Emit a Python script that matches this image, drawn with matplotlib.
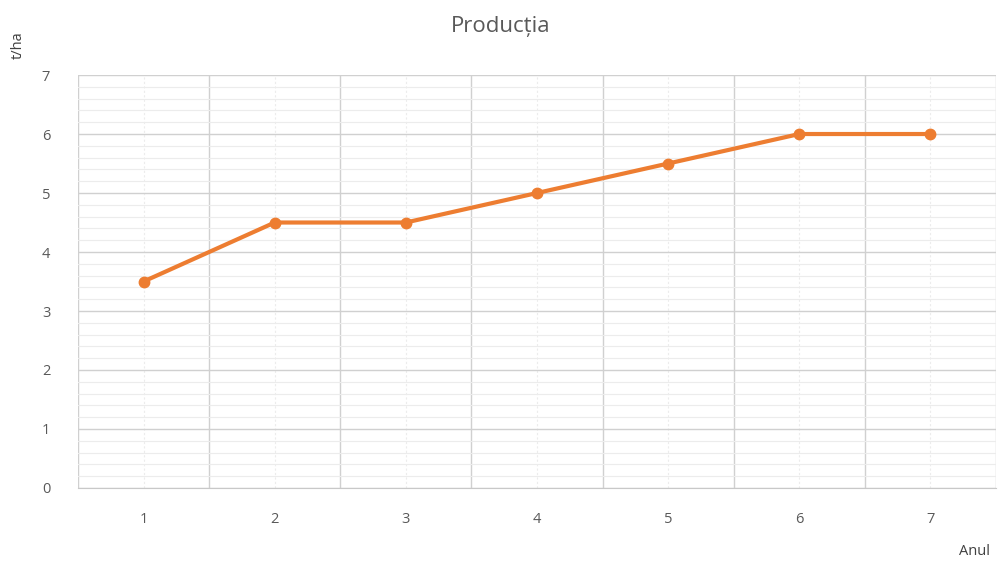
import matplotlib
matplotlib.use('Agg')
import matplotlib.pyplot as plt
import numpy as np

# data
years = [1, 2, 3, 4, 5, 6, 7]
production = [3.5, 4.5, 4.5, 5.0, 5.5, 6.0, 6.0]

plt.rcParams['font.family'] = ['Open Sans', 'DejaVu Sans']

fig = plt.figure(figsize=(10.01, 5.62), dpi=100)
ax = fig.add_axes([0.0779, 0.1317, 0.9171, 0.7348])

ax.set_xlim(0.5, 7.5)
ax.set_ylim(0, 7)

# gridlines, Excel style
ax.set_xticks(np.arange(0.5, 8.0, 1.0))
ax.set_xticks(years, minor=True)
ax.set_yticks(range(0, 8))
ax.set_yticks(np.arange(0, 7.01, 0.2), minor=True)
ax.grid(which='major', axis='both', color='#d0d0d0', lw=1.0)
ax.grid(which='minor', axis='y', color='#ececec', lw=0.8)
ax.grid(which='minor', axis='x', color='#ececec', lw=0.8, ls=(0, (2, 2)))
ax.set_axisbelow(True)

ax.set_xticklabels([])
ax.set_xticklabels([str(y) for y in years], minor=True)
ax.tick_params(which='both', length=0, colors='#595959', labelsize=10.5)
ax.tick_params(axis='x', which='minor', pad=17)
ax.tick_params(axis='y', pad=20)

for s in ['top', 'right', 'left']:
    ax.spines[s].set_visible(False)
ax.spines['bottom'].set_color('#c8c8c8')

ax.plot(years, production, color='#ED7D31', lw=3, marker='o', ms=7.5,
        solid_capstyle='round', zorder=3)

fig.text(0.5, 0.952, 'Producția', ha='center', va='center', fontsize=16, color='#595959')
fig.text(0.018, 0.92, 't/ha', ha='center', va='center', rotation=90, fontsize=10.5,
         color='#404040')
fig.text(0.974, 0.018, 'Anul', ha='center', va='center', fontsize=10.5, color='#404040')

fig.savefig('out.png', dpi=100)
